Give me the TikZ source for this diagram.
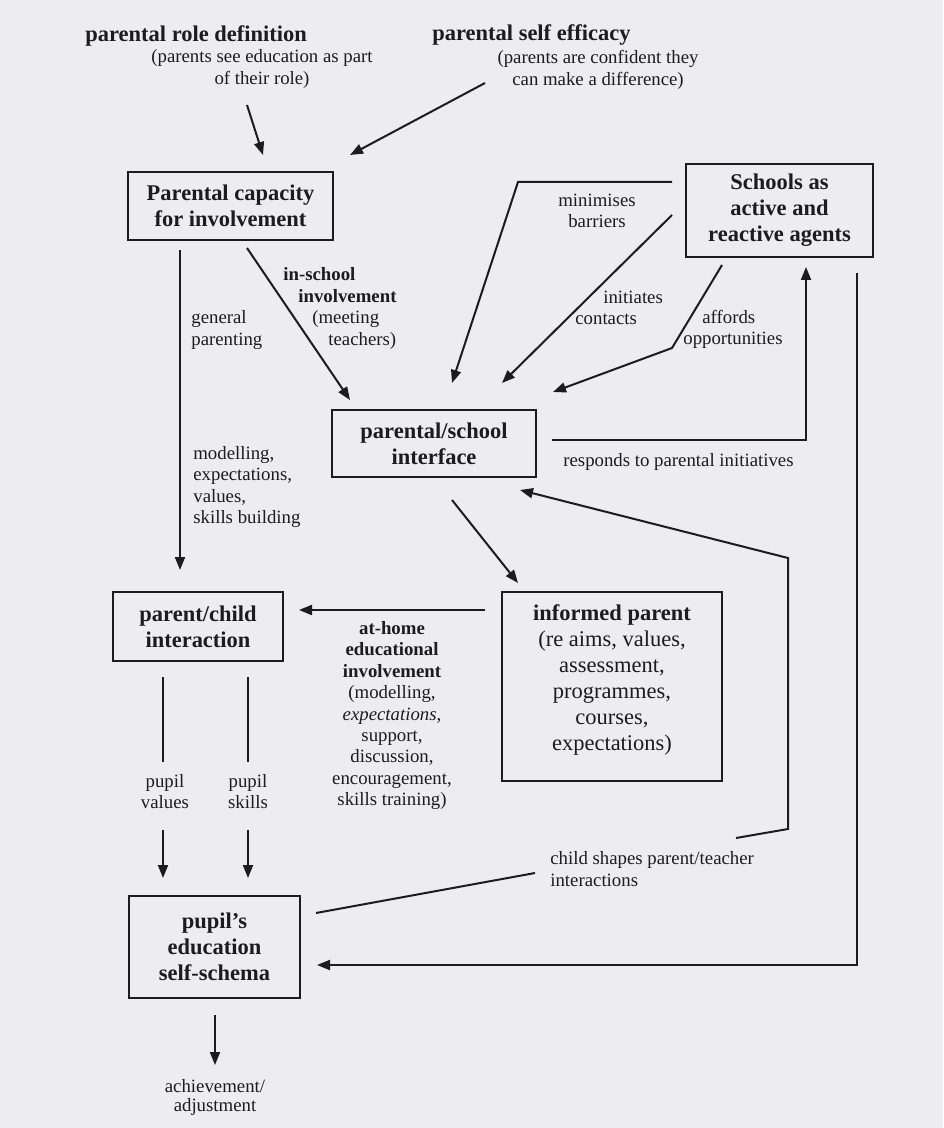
\documentclass[tikz,border=0pt]{standalone}
\usepackage{fontspec}
\setmainfont{Liberation Serif}
\usetikzlibrary{arrows.meta}
\newlength\pxu
\setlength\pxu{0.02cm}
\newcommand\fbig{\fontsize{12.8}{14.8}\selectfont}
\newcommand\fsml{\fontsize{10.7}{12.2}\selectfont}
\definecolor{bgc}{RGB}{237,237,239}
\definecolor{ink}{RGB}{28,28,28}
\tikzset{
  box/.style={draw=ink, line width=0.04cm, inner sep=0pt, align=center, font=\fbig\bfseries, text=ink},
  lbl/.style={inner sep=0pt, font=\fsml, text=ink},
  ttl/.style={inner sep=0pt, font=\fbig\bfseries, text=ink},
  arr/.style={draw=ink, line width=0.04cm, -{Triangle[length=0.26cm,width=0.2cm]}},
  ln/.style={draw=ink, line width=0.04cm},
}
\begin{document}
\begin{tikzpicture}[x=0.02cm,y=-0.02cm]
\fill[bgc] (0,0) rectangle (943,1128);
\useasboundingbox (0,0) rectangle (943,1128);

% titles
\node[ttl, anchor=west] (t1) at (85,36) {parental role definition};
\node[lbl, align=center] (t1s) at (262,69) {(parents see education as part\\of their role)};
\node[ttl, anchor=west] (t2) at (432,35) {parental self efficacy};
\node[lbl, align=center] (t2s) at (598,70) {(parents are confident they\\can make a difference)};

% boxes
\node[box, minimum width=205\pxu, minimum height=68\pxu] (cap) at (230.5,206) {Parental capacity\\for involvement};
\node[box, minimum width=187\pxu, minimum height=93\pxu] (sch) at (779.5,210.5) {Schools as\\active and\\reactive agents};
\node[box, minimum width=204\pxu, minimum height=67\pxu] (ifc) at (434,443.5) {parental/school\\interface};
\node[box, minimum width=170\pxu, minimum height=69\pxu] (pc) at (198,626.5) {parent/child\\interaction};
\node[box, font=\fbig, minimum width=220\pxu, minimum height=189\pxu] (inf) at (612,686.5) {\textbf{informed parent}\\(re aims, values,\\assessment,\\programmes,\\courses,\\expectations)\rule[-18\pxu]{0pt}{0pt}};
\node[box, minimum width=171\pxu, minimum height=102\pxu] (pup) at (214.5,947) {pupil's\\education\\self-schema};

% labels
\node[lbl, align=center] (lmin) at (597,211) {minimises\\barriers};
\node[lbl, align=left, anchor=west] (linit) at (575,308) {\hspace*{28\pxu}initiates\\contacts};
\node[lbl, align=left, anchor=west] (laff) at (683,329.5) {\hspace*{19\pxu}affords\\opportunities};
\node[lbl, anchor=west] (lresp) at (563,462) {responds to parental initiatives};
\node[lbl, align=left, anchor=west] (lgen) at (191,330) {general\\parenting};
\node[lbl, align=left, anchor=west] (lmod) at (193,487) {modelling,\\expectations,\\values,\\skills building};
\node[lbl, align=left, anchor=west] (lins) at (283,308.5) {\textbf{in-school}\\\hspace*{15\pxu}\textbf{involvement}\\\hspace*{29\pxu}(meeting\\\hspace*{45\pxu}teachers)};
\node[lbl, align=center] (lhome) at (392,715.5) {\textbf{at-home}\\\textbf{educational}\\\textbf{involvement}\\(modelling,\\\textit{expectations},\\support,\\discussion,\\encouragement,\\skills training)};
\node[lbl, align=center] (lpv) at (165,791.5) {pupil\\values};
\node[lbl, align=center] (lps) at (248,791.5) {pupil\\skills};
\node[lbl, align=left, anchor=west] (lchild) at (550,869) {child shapes parent/teacher\\interactions};
\node[lbl, align=center, font=\fontsize{10.7}{10.9}\selectfont] (lach) at (215,1097.5) {achievement/\\adjustment};

% connector points
\coordinate (a1s) at (247,105);  \coordinate (a1e) at (263,155);
\coordinate (a2s) at (485,83);   \coordinate (a2e) at (350,155);
\coordinate (gps) at (180,250);  \coordinate (gpe) at (180,570);
\coordinate (iss) at (247,248);  \coordinate (ise) at (350,400);
\coordinate (mbs) at (672,182);  \coordinate (mbk) at (518,182);  \coordinate (mbe) at (452,383);
\coordinate (ics) at (672,215);  \coordinate (ice) at (502,383);
\coordinate (afs) at (722,265);  \coordinate (afk) at (672,348);  \coordinate (afe) at (553,392);
\coordinate (rss) at (552,440);  \coordinate (rsk) at (806,440);  \coordinate (rse) at (806,267);
\coordinate (rls) at (857,273);  \coordinate (rlk) at (857,965);  \coordinate (rle) at (317,965);
\coordinate (ips) at (452,500);  \coordinate (ipe) at (518,583);
\coordinate (ahs) at (485,610);  \coordinate (ahe) at (299,610);
\coordinate (cs1) at (316,913);  \coordinate (cs2) at (535,873);
\coordinate (cs3) at (736,838);  \coordinate (cs4) at (788,829);  \coordinate (cs5) at (788,558);  \coordinate (cs6) at (520,490);
\coordinate (pv1) at (163,677);  \coordinate (pv2) at (163,762);
\coordinate (ps1) at (248,677);  \coordinate (ps2) at (248,762);
\coordinate (pv3) at (163,830);  \coordinate (pv4) at (163,878);
\coordinate (ps3) at (248,830);  \coordinate (ps4) at (248,878);
\coordinate (ach1) at (215,1015); \coordinate (ach2) at (215,1065);

% connectors
\draw[arr] (a1s) -- (a1e);
\draw[arr] (a2s) -- (a2e);
\draw[arr] (gps) -- (gpe);
\draw[arr] (iss) -- (ise);
\draw[arr] (mbs) -- (mbk) -- (mbe);
\draw[arr] (ics) -- (ice);
\draw[arr] (afs) -- (afk) -- (afe);
\draw[arr] (rss) -- (rsk) -- (rse);
\draw[arr] (rls) -- (rlk) -- (rle);
\draw[arr] (ips) -- (ipe);
\draw[arr] (ahs) -- (ahe);
\draw[ln] (cs1) -- (cs2);
\draw[arr] (cs3) -- (cs4) -- (cs5) -- (cs6);
\draw[ln] (pv1) -- (pv2);
\draw[ln] (ps1) -- (ps2);
\draw[arr] (pv3) -- (pv4);
\draw[arr] (ps3) -- (ps4);
\draw[arr] (ach1) -- (ach2);
\end{tikzpicture}
\end{document}
